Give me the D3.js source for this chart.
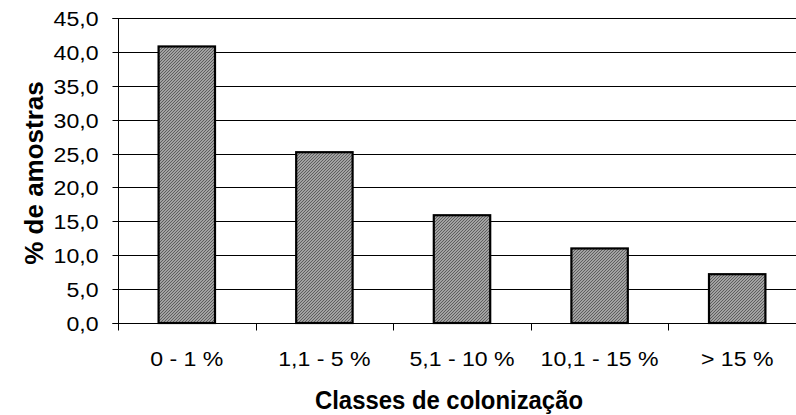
<!DOCTYPE html>
<html>
<head>
<meta charset="utf-8">
<script src="https://cdn.jsdelivr.net/npm/d3@7"></script>
<style>
  html, body { margin: 0; padding: 0; background: #fff; }
  svg { display: block; font-family: "Liberation Sans", Arial, sans-serif; }
</style>
</head>
<body>
<svg id="chart" width="796" height="415"></svg>
<script>
const categories = ["0 - 1 %", "1,1 - 5 %", "5,1 - 10 %", "10,1 - 15 %", "> 15 %"];
const values = [40.8, 25.2, 15.9, 11.0, 7.2];
const yTicks = [0, 5, 10, 15, 20, 25, 30, 35, 40, 45];
const xTitle = "Classes de colonização";
const yTitle = "% de amostras";

const svg = d3.select("#chart");
const pLeft = 118, pRight = 806, pTop = 18, pBottom = 323;

const x = d3.scaleBand().domain(categories).range([pLeft, pRight]).paddingInner(0.59).paddingOuter(0.295);
const y = d3.scaleLinear().domain([0, 45]).range([pBottom, pTop]);

const defs = svg.append("defs");
const pat = defs.append("pattern").attr("id", "hatch").attr("patternUnits", "userSpaceOnUse")
  .attr("width", 3).attr("height", 3);
pat.append("rect").attr("width", 3).attr("height", 3).attr("fill", "#a2a2a2");
pat.append("path").attr("d", "M0,3 L3,0 M-1,1 L1,-1 M2,4 L4,2").attr("stroke", "#5e5e5e").attr("stroke-width", 1);

// gridlines
svg.append("g").selectAll("line").data(yTicks.filter(d => d > 0)).join("line")
  .attr("x1", pLeft).attr("x2", pRight)
  .attr("y1", d => Math.round(y(d)) + 0.5).attr("y2", d => Math.round(y(d)) + 0.5)
  .attr("stroke", "#000").attr("stroke-width", 1);

// bars
svg.append("g").selectAll("rect").data(values).join("rect")
  .attr("x", (d, i) => x(categories[i]))
  .attr("width", x.bandwidth())
  .attr("y", d => y(d))
  .attr("height", d => y(0) - y(d))
  .attr("fill", "url(#hatch)")
  .attr("stroke", "#000").attr("stroke-width", 2.2);

// y axis
const yAxis = svg.append("g").attr("transform", `translate(${pLeft + 0.5},0)`)
  .call(d3.axisLeft(y).tickValues(yTicks).tickSize(6).tickPadding(14)
    .tickFormat(d => d3.format(".1f")(d).replace(".", ",")));
yAxis.select(".domain").attr("stroke", "#000").attr("d", `M-6,${pTop + 0.5}H0V${pBottom + 0.5}H-6`);
yAxis.selectAll(".tick line").attr("stroke", "#000");
yAxis.selectAll(".tick").attr("transform", d => `translate(0,${Math.round(y(d)) + 0.5})`);
yAxis.selectAll(".tick text").attr("font-size", 21).attr("fill", "#000")
  .attr("font-family", "Liberation Sans, Arial, sans-serif")
  .attr("dy", "0.36em")
  .attr("transform", "translate(-20,0) scale(1.1,1) translate(20,0)");

// x axis
const xAxis = svg.append("g").attr("transform", `translate(0,${pBottom + 0.5})`);
xAxis.append("line").attr("x1", pLeft).attr("x2", pRight).attr("stroke", "#000");
const boundaries = categories.map(c => x(c) - x.step() * x.paddingInner() / 2);
xAxis.selectAll("line.tk").data(boundaries).join("line").attr("class", "tk")
  .attr("x1", d => Math.round(d) + 0.5).attr("x2", d => Math.round(d) + 0.5)
  .attr("y1", 0).attr("y2", 7).attr("stroke", "#000");
xAxis.selectAll("text").data(categories).join("text")
  .attr("transform", d => `translate(${x(d) + x.bandwidth() / 2},42.5) scale(1.1,1)`)
  .attr("text-anchor", "middle").attr("font-size", 21).attr("fill", "#000")
  .text(d => d);

// titles
svg.append("text").attr("transform", "translate(449,409) scale(0.955,1)").attr("text-anchor", "middle")
  .attr("font-size", 25).attr("font-weight", "bold").attr("fill", "#000").text(xTitle);
svg.append("text").attr("transform", "translate(43,173) rotate(-90)").attr("text-anchor", "middle")
  .attr("font-size", 26).attr("font-weight", "bold").attr("fill", "#000").text(yTitle);
</script>
</body>
</html>
